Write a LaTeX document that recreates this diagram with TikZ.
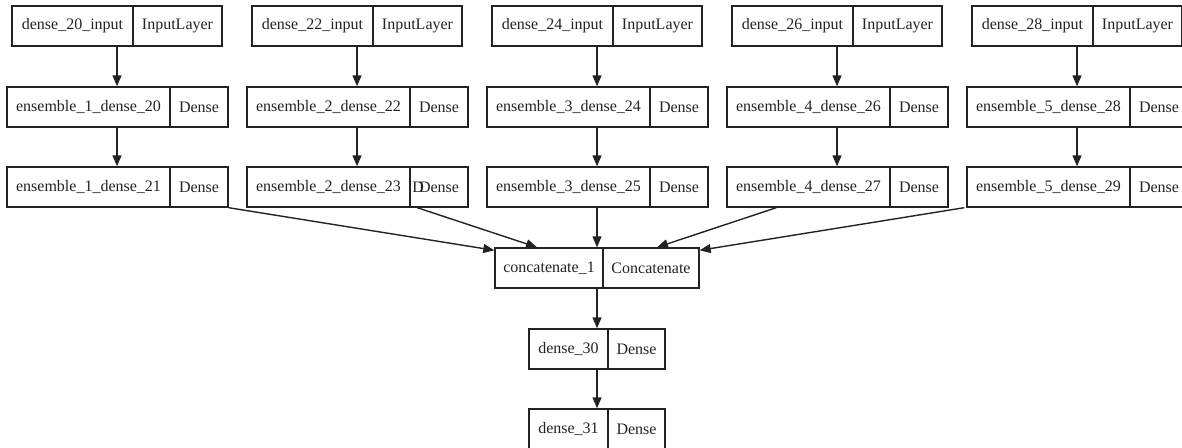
\documentclass[tikz,border=0pt]{standalone}
\usepackage{fontspec}
\setmainfont{Liberation Serif}
\usetikzlibrary{arrows.meta,calc}
\definecolor{ink}{RGB}{35,35,35}
\tikzset{
  recbox/.style={draw=ink, line width=1.4pt, rectangle, inner sep=0pt, minimum height=40pt},
  recline/.style={draw=ink, line width=1.4pt},
  rectext/.style={inner sep=0pt, text=ink, font=\fontsize{16}{19}\selectfont},
  edge/.style={draw=ink, line width=1.4pt, -{Triangle[length=11pt,width=9pt]}},
}
% #1 name, #2 left, #3 divider, #4 right, #5 top, #6 left text, #7 right text
\newcommand\recnode[7]{%
  \node[recbox, minimum width={(#4)-(#2)}] (#1) at ({((#2)+(#4))/2},{(#5)+20}) {};
  \draw[recline] ({#3},{#5}) -- ({#3},{(#5)+40});
  \node[rectext] (#1L) at ({((#2)+(#3))/2},{(#5)+20}) {#6};
  \node[rectext] (#1R) at ({((#3)+(#4))/2},{(#5)+20}) {#7};
}
\begin{document}
\begin{tikzpicture}[x=1pt,y=-1pt]
\useasboundingbox (0,0) rectangle (1182,447);
\clip (0,0) rectangle (1182,447);
% column 1
\recnode{in0}{12}{133}{222}{6}{dense\_20\_input}{InputLayer}
\recnode{a0}{7}{170}{228}{87}{ensemble\_1\_dense\_20}{Dense}
\recnode{b0}{7}{170}{228}{167}{ensemble\_1\_dense\_21}{Dense}
% column 2
\recnode{in1}{252}{373}{462}{6}{dense\_22\_input}{InputLayer}
\recnode{a1}{247}{410}{468}{87}{ensemble\_2\_dense\_22}{Dense}
\recnode{b1}{247}{410}{468}{167}{ensemble\_2\_dense\_23}{\makebox[0pt][r]{D\kern-5pt}Dense}
% column 3
\recnode{in2}{492}{613}{702}{6}{dense\_24\_input}{InputLayer}
\recnode{a2}{487}{650}{708}{87}{ensemble\_3\_dense\_24}{Dense}
\recnode{b2}{487}{650}{708}{167}{ensemble\_3\_dense\_25}{Dense}
% column 4
\recnode{in3}{732}{853}{942}{6}{dense\_26\_input}{InputLayer}
\recnode{a3}{727}{890}{948}{87}{ensemble\_4\_dense\_26}{Dense}
\recnode{b3}{727}{890}{948}{167}{ensemble\_4\_dense\_27}{Dense}
% column 5
\recnode{in4}{972}{1093}{1182}{6}{dense\_28\_input}{InputLayer}
\recnode{a4}{967}{1130}{1188}{87}{ensemble\_5\_dense\_28}{Dense}
\recnode{b4}{967}{1130}{1188}{167}{ensemble\_5\_dense\_29}{Dense}
% merge and head
\recnode{cat}{495}{603}{699}{248}{concatenate\_1}{Concatenate}
\recnode{d30}{529}{608}{665}{329}{dense\_30}{Dense}
\recnode{d31}{529}{608}{665}{409}{dense\_31}{Dense}
% vertical edges
\foreach \k in {0,...,4} {
  \draw[edge] (in\k.south) -- (in\k.south |- a\k.north);
  \draw[edge] (a\k.south -| in\k.south) -- (in\k.south |- b\k.north);
}
% into concatenate
\draw[edge] (b0.south east) -- ([yshift=-3pt]cat.north west);
\draw[edge] ([xshift=171pt]b1.south west) -- ([xshift=-60pt]cat.north);
\draw[edge] (b2.south -| cat.north) -- (cat.north);
\draw[edge] ([xshift=50pt]b3.south west) -- ([xshift=60pt]cat.north);
\draw[edge] ([xshift=-2pt]b4.south west) -- ([yshift=-3pt]cat.north east);
% head
\draw[edge] (cat.south) -- (cat.south |- d30.north);
\draw[edge] (d30.south) -- (d30.south |- d31.north);
\end{tikzpicture}
\end{document}
